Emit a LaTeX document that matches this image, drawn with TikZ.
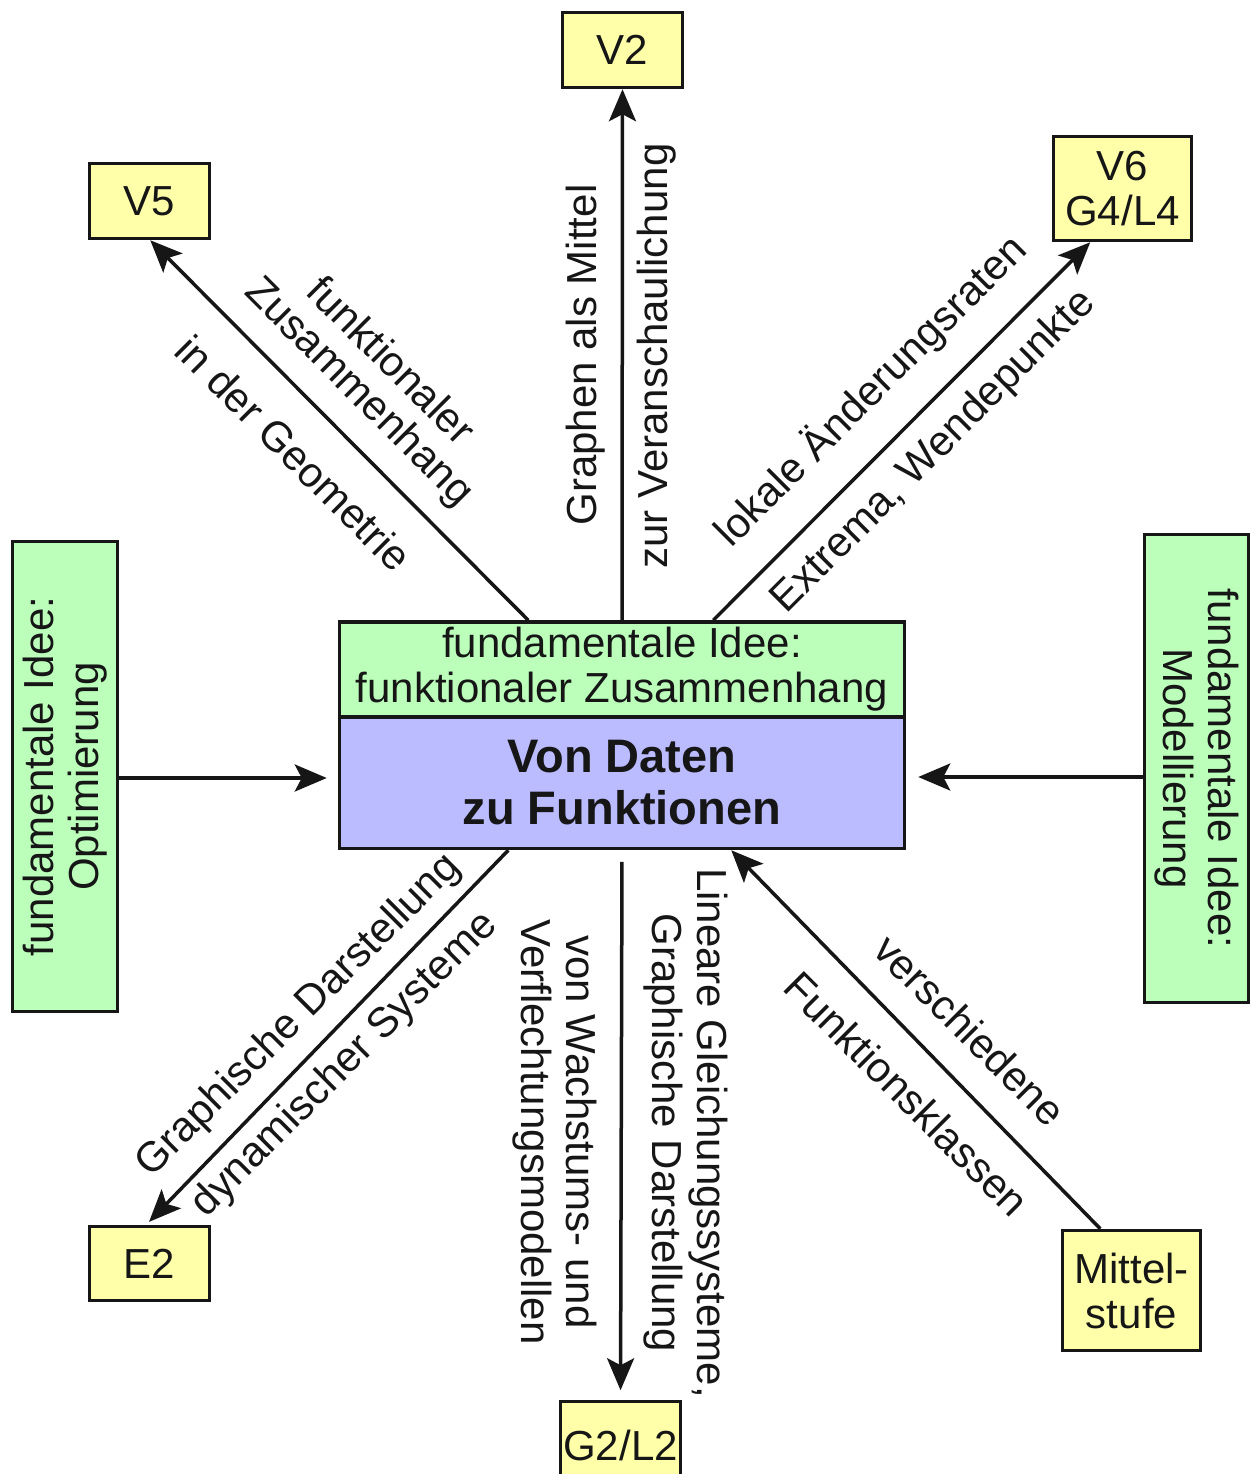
\documentclass[tikz,border=0pt]{standalone}
\usepackage{fontspec}
\setmainfont{Liberation Sans}
\usetikzlibrary{arrows.meta,calc}
\definecolor{boxyellow}{RGB}{255,255,170}
\definecolor{boxgreen}{RGB}{187,255,187}
\definecolor{boxblue}{RGB}{187,187,255}
\definecolor{ink}{RGB}{22,22,22}
\newcommand\lblfont{\fontsize{42}{45}\selectfont}
\newcommand\bigfont{\fontsize{47}{52}\selectfont\bfseries}
\begin{document}
\begin{tikzpicture}[x=1pt,y=-1pt,
  box/.style={draw=ink, line width=3.5pt, inner sep=0pt, align=center, font=\lblfont, text=ink},
  ybox/.style={box, fill=boxyellow},
  gbox/.style={box, fill=boxgreen},
  bbox/.style={box, fill=boxblue, font=\bigfont},
  lbl/.style={inner sep=0pt, align=center, font=\lblfont, text=ink},
  arr/.style={draw=ink, line width=3.5pt, -{Stealth[length=32pt,width=27pt,inset=7pt]}}]
\clip (0,0) rectangle (1252,1474);
\fill[white] (0,0) rectangle (1252,1474);

% boxes
\node[ybox, minimum width=120pt, minimum height=75pt] (v2) at (622.5,50) {V2};
\node[ybox, minimum width=120pt, minimum height=75pt] (v5) at (149.5,201) {V5};
\node[ybox, minimum width=138pt, minimum height=104pt] (v6) at (1122.5,188.5) {V6\\G4/L4};
\node[ybox, minimum width=120pt, minimum height=74pt] (e2) at (149.5,1263.5) {E2};
\node[ybox, minimum width=120pt, minimum height=87pt] (g2) at (620.5,1445) {G2/L2};
\node[ybox, minimum width=138pt, minimum height=120pt] (mit) at (1131.5,1290.5) {Mittel-\\stufe};
\node[gbox, rotate=90, minimum width=470pt, minimum height=105pt] (opt) at (65,776.5) {fundamentale Idee:\\Optimierung};
\node[gbox, rotate=-90, minimum width=468pt, minimum height=104pt] (mod) at (1196.5,768.5) {fundamentale Idee:\\Modellierung};
\node[gbox, minimum width=565pt, minimum height=95pt] (fz) at (622,669.5) {fundamentale Idee:\\funktionaler Zusammenhang};
\node[bbox, minimum width=565pt, minimum height=131pt] (vd) at (622,783) {Von Daten\\zu Funktionen};

% connectors
\draw[arr] (fz.north) -- (v2.south);
\draw[arr] ([xshift=190.5pt]fz.north west) -- ([xshift=62.5pt]v5.south west);
\draw[arr] ([xshift=375.5pt]fz.north west) -- ([xshift=38.5pt]v6.south west);
\draw[arr, shorten >=11pt] ([yshift=-1.5pt]opt.south) -- ([yshift=-1.5pt]opt.south -| vd.west);
\draw[arr, shorten >=12pt] ([yshift=-8.5pt]mod.south) -- ([yshift=-8.5pt]mod.south -| vd.east);
\draw[arr, shorten <=11.5pt, shorten >=9.5pt] (vd.south) -- (g2.north);
\draw[arr, shorten >=4pt] ([xshift=170.5pt]vd.south west) -- ([xshift=58.5pt]e2.north west);
\draw[arr] ([xshift=39.5pt]mit.north west) -- ([xshift=393.5pt]vd.south west);

% labels
\node[lbl, rotate=90] (l1) at (586,355) {Graphen als Mittel};
\node[lbl, rotate=90] (l2) at (657,356) {zur Veranschaulichung};
\node[lbl, rotate=-45] (l3) at (392,360) {funktionaler};
\node[lbl, rotate=-45] (l4) at (358,393) {Zusammenhang};
\node[lbl, rotate=-45] (l5) at (294,453) {in der Geometrie};
\node[lbl, rotate=45] (l6) at (871,391) {lokale Änderungsraten};
\node[lbl, rotate=45] (l7) at (934,452) {Extrema, Wendepunkte};
\node[lbl, rotate=45] (l8) at (299,1016) {Graphische Darstellung};
\node[lbl, rotate=45] (l9) at (345,1065) {dynamischer Systeme};
\node[lbl, rotate=-45] (l10) at (970,1030) {verschiedene};
\node[lbl, rotate=-45] (l11) at (907,1094) {Funktionsklassen};
\node[lbl, rotate=-90] (l12) at (686,1133) {Lineare Gleichungssysteme,\\Graphische Darstellung};
\node[lbl, rotate=-90] (l13) at (555,1132) {von Wachstums- und\\Verflechtungsmodellen};
\end{tikzpicture}
\end{document}
